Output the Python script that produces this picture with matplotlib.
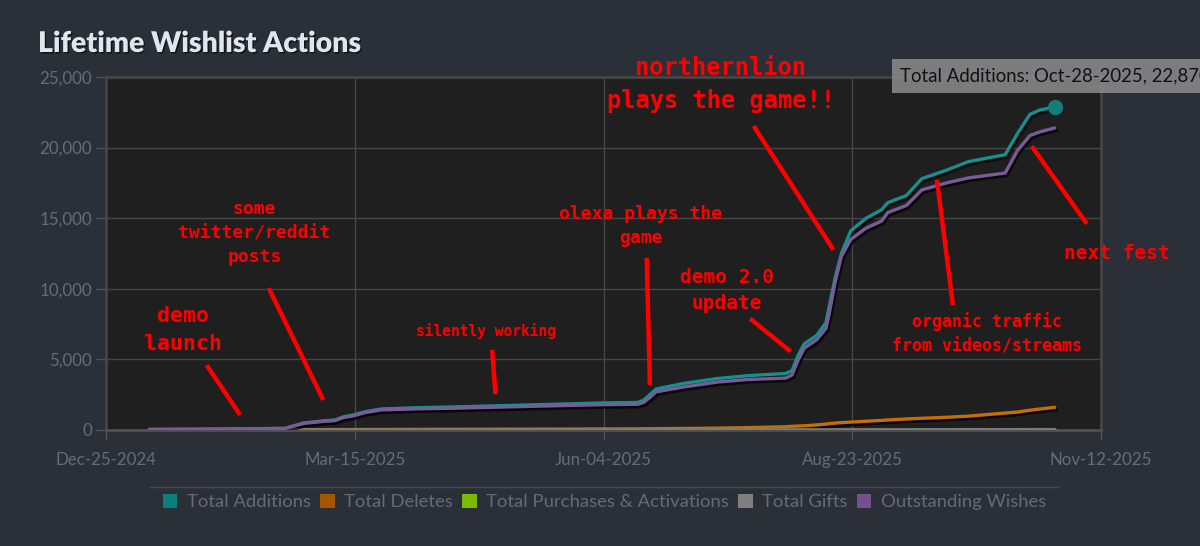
import numpy as np
import pandas as pd
import matplotlib
matplotlib.use("Agg")
import matplotlib.pyplot as plt
import matplotlib.dates as mdates
import matplotlib.patheffects as pe
from matplotlib.patches import Patch
from matplotlib.lines import Line2D

# wishlist series
dates = ["2025-01-08", "2025-01-25", "2025-02-10", "2025-02-21", "2025-02-27",
         "2025-03-06", "2025-03-09", "2025-03-12", "2025-03-15", "2025-03-19",
         "2025-03-24", "2025-04-05", "2025-04-16", "2025-05-24", "2025-06-03",
         "2025-06-15", "2025-06-17", "2025-06-19", "2025-06-21", "2025-06-30",
         "2025-07-11", "2025-07-21", "2025-08-02", "2025-08-04", "2025-08-06",
         "2025-08-08", "2025-08-12", "2025-08-15", "2025-08-16", "2025-08-18",
         "2025-08-20", "2025-08-23", "2025-08-28", "2025-09-02", "2025-09-04",
         "2025-09-10", "2025-09-15", "2025-09-23", "2025-09-30", "2025-10-12",
         "2025-10-16", "2025-10-20", "2025-10-23", "2025-10-28"]
total_additions = [40, 60, 90, 120, 500, 660, 700, 940, 1060, 1300,
                   1490, 1580, 1630, 1850, 1910, 1950, 2100, 2500, 2900, 3300,
                   3650, 3850, 4000, 4200, 5300, 6100, 6700, 7600, 8700, 10800,
                   12500, 14100, 15000, 15600, 16100, 16600, 17800, 18400, 19000, 19500,
                   21000, 22350, 22650, 22870]
outstanding = [40, 55, 85, 110, 470, 620, 660, 890, 1000, 1240,
               1420, 1500, 1540, 1740, 1790, 1820, 1950, 2300, 2700, 3050,
               3400, 3580, 3680, 3900, 4960, 5800, 6400, 7200, 8200, 10500,
               12300, 13500, 14300, 14800, 15400, 15900, 17000, 17500, 17850, 18200,
               19800, 20850, 21100, 21390]
total_deletes = [0, 5, 10, 15, 20, 25, 28, 30, 32, 35,
                 38, 45, 50, 65, 75, 80, 85, 90, 95, 110,
                 130, 170, 230, 260, 280, 300, 360, 420, 450, 490,
                 520, 560, 620, 680, 710, 780, 830, 900, 980, 1200,
                 1270, 1400, 1480, 1600]
total_purchases = [0] * len(dates)
total_gifts = [0, 0, 1, 1, 2, 2, 2, 3, 3, 3,
               3, 4, 4, 5, 5, 5, 6, 6, 6, 7,
               8, 8, 9, 9, 10, 10, 11, 12, 12, 13,
               14, 15, 16, 17, 18, 19, 20, 22, 24, 26,
               27, 28, 29, 30]

tick_labels = ["Dec-25-2024", "Mar-15-2025", "Jun-04-2025", "Aug-23-2025", "Nov-12-2025"]
y_ticks = [0, 5000, 10000, 15000, 20000, 25000]

series_names = ["Total Additions", "Total Deletes", "Total Purchases & Activations",
                "Total Gifts", "Outstanding Wishes"]
series_colors = ["#14918f", "#c46e06", "#7cb800", "#7a7a7a", "#7b5a98"]
legend_colors = ["#0b7f7d", "#a35700", "#7cba00", "#7f7f7f", "#74508f"]

# hand-drawn notes: text, text spot, pointer start, pointer end, font size
notes = [
    ("northernlion\nplays the game!!", ("2025-07-12", 24450), ("2025-07-23", 21400), ("2025-08-17", 12900), 17),
    ("some\ntwitter/reddit\nposts", ("2025-02-11", 13950), ("2025-02-16", 9900), ("2025-03-05", 2270), 13),
    ("demo\nlaunch", ("2025-01-19", 7080), ("2025-01-27", 4460), ("2025-02-06", 1200), 15.5),
    ("silently working", ("2025-04-27", 7010), ("2025-04-29", 5520), ("2025-04-30", 2690), 10.5),
    ("olexa plays the\ngame", ("2025-06-16", 14450), ("2025-06-18", 12040), ("2025-06-19", 3330), 13),
    ("demo 2.0\nupdate", ("2025-07-14", 9900), ("2025-07-22", 7790), ("2025-08-03", 5660), 14),
    ("organic traffic\nfrom videos/streams", ("2025-10-06", 6800), ("2025-09-20", 17560), ("2025-09-25", 8990), 12),
    ("next fest", ("2025-11-17", 12530), ("2025-10-21", 19970), ("2025-11-07", 14730), 14),
]

x = mdates.date2num(pd.to_datetime(dates))
start = mdates.date2num(pd.Timestamp("2024-12-25"))
end = mdates.date2num(pd.Timestamp("2025-11-12"))

plt.rcParams['font.family'] = ['Lato', 'DejaVu Sans']

fig = plt.figure(figsize=(12, 5.46), dpi=100, facecolor="#2b2f38")
ax = fig.add_axes([106 / 1200, 1 - 430 / 546, 995 / 1200, 353 / 546])
ax.set_facecolor("#1f1f1f")

shadow = [pe.SimpleLineShadow(offset=(1.2, -1.8), shadow_color="black", alpha=0.7), pe.Normal()]
values = [total_additions, total_deletes, total_purchases, total_gifts, outstanding]
for vals, col in zip(values, series_colors):
    ax.plot(x, vals, color=col, lw=2.4, solid_capstyle="round", path_effects=shadow, zorder=3)

# hover point on the last day
ax.plot(x[-1], total_additions[-1], "o", ms=10, color="#127d7b", zorder=4)

ax.set_xlim(start, end)
ax.set_ylim(0, 25000)
xt = np.linspace(start, end, len(tick_labels))
ax.set_xticks(xt)
ax.set_xticklabels(tick_labels)
ax.set_yticks(y_ticks)
ax.set_yticklabels([f"{v:,}" for v in y_ticks])
ax.tick_params(colors="#4f5257", labelcolor="#686c72", labelsize=12.2, length=7, width=1, pad=3)
ax.tick_params(axis="x", pad=9)
ax.grid(True, color="#464646", lw=1)
ax.set_axisbelow(True)
for side in ["top", "right", "left"]:
    ax.spines[side].set_color("#454545")
    ax.spines[side].set_linewidth(2)
ax.spines["bottom"].set_color("#505050")
ax.spines["bottom"].set_linewidth(2)

fig.text(38 / 1200, 1 - 44 / 546, "Lifetime Wishlist Actions", fontsize=20.5, fontweight="heavy",
         color="#dfe6ec", va="center", ha="left",
         path_effects=[pe.withSimplePatchShadow(offset=(1, -1), shadow_rgbFace="black", alpha=0.6)])

# red scribbles
for text, txy, p0, p1, size in notes:
    ax.text(mdates.date2num(pd.Timestamp(txy[0])), txy[1], text, color="#ff0000", fontsize=size,
            family="DejaVu Sans Mono", fontweight="bold", ha="center", va="center",
            linespacing=1.45, clip_on=False, zorder=6)
    ax.add_line(Line2D([mdates.date2num(pd.Timestamp(p0[0])), mdates.date2num(pd.Timestamp(p1[0]))],
                       [p0[1], p1[1]], color="#ff0000", lw=3.2, clip_on=False, zorder=6))

# tooltip
fig.text(900 / 1200, 1 - 76 / 546, f"Total Additions: Oct-28-2025, {total_additions[-1]:,}",
         fontsize=13.4, color="#111111", va="center", ha="left",
         bbox=dict(boxstyle="square,pad=0.45", facecolor="#8c8c8c", edgecolor="none", alpha=0.85))

# legend with separator
fig.add_artist(Line2D([150 / 1200, 1058 / 1200], [1 - 487 / 546] * 2, color="#454a53", lw=1))
handles = [Patch(facecolor=c, edgecolor="none") for c in legend_colors]
fig.legend(handles, series_names, loc="center", bbox_to_anchor=(0.5035, 1 - 502 / 546), ncol=5,
           frameon=False, fontsize=13.3, labelcolor="#666b73", handlelength=0.8, handleheight=0.8,
           handletextpad=0.5, columnspacing=0.5)

fig.savefig("out.png", dpi=100, facecolor=fig.get_facecolor())
